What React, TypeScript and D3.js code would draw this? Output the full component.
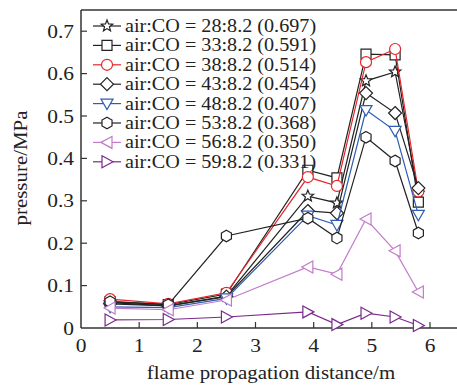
import React from "react";
import * as d3 from "d3";

const distances = [0.5, 1.5, 2.5, 3.9, 4.4, 4.9, 5.4, 5.8];
const s28 = [0.060, 0.052, 0.075, 0.311, 0.295, 0.583, 0.604, 0.318];
const s33 = [0.062, 0.055, 0.080, 0.372, 0.354, 0.646, 0.644, 0.297];
const s38 = [0.068, 0.057, 0.083, 0.356, 0.335, 0.627, 0.658, 0.322];
const s43 = [0.057, 0.052, 0.074, 0.276, 0.271, 0.554, 0.507, 0.330];
const s48 = [0.050, 0.048, 0.070, 0.265, 0.243, 0.514, 0.465, 0.267];
const s53 = [0.062, 0.055, 0.217, 0.259, 0.212, 0.450, 0.394, 0.224];
const s56 = [0.047, 0.043, 0.066, 0.144, 0.127, 0.257, 0.182, 0.085];
const s59 = [0.019, 0.020, 0.026, 0.038, 0.008, 0.035, 0.026, 0.006];

const seriesLabels = [
  "air:CO = 28:8.2 (0.697)",
  "air:CO = 33:8.2 (0.591)",
  "air:CO = 38:8.2 (0.514)",
  "air:CO = 43:8.2 (0.454)",
  "air:CO = 48:8.2 (0.407)",
  "air:CO = 53:8.2 (0.368)",
  "air:CO = 56:8.2 (0.350)",
  "air:CO = 59:8.2 (0.331)",
];
const seriesValues = [s28, s33, s38, s43, s48, s53, s56, s59];
const seriesColors = ["#222", "#222", "#e8262a", "#222", "#2f5db3", "#222", "#c27bc9", "#7a2a8c"];
const seriesMarkers = ["star", "square", "circle", "diamond", "triDown", "hexagon", "triLeft", "triRight"];

const xTicks = [0, 1, 2, 3, 4, 5, 6];
const yTicks = [0, 0.1, 0.2, 0.3, 0.4, 0.5, 0.6, 0.7];

function poly(pts: [number, number][]) {
  return "M" + pts.map((p) => p[0].toFixed(2) + "," + p[1].toFixed(2)).join("L") + "Z";
}

function markerPath(kind: string): string {
  switch (kind) {
    case "star": {
      const pts: [number, number][] = [];
      for (let i = 0; i < 10; i++) {
        const r = i % 2 === 0 ? 6 : 2.6;
        const a = -Math.PI / 2 + (i * Math.PI) / 5;
        pts.push([r * Math.cos(a), r * Math.sin(a)]);
      }
      return poly(pts);
    }
    case "square":
      return poly([[-5, -5], [5, -5], [5, 5], [-5, 5]]);
    case "circle":
      return "M5.5,0A5.5,5.5 0 1,1 -5.5,0A5.5,5.5 0 1,1 5.5,0Z";
    case "diamond":
      return poly([[0, -6.5], [6.5, 0], [0, 6.5], [-6.5, 0]]);
    case "triDown":
      return poly([[-6, -4.5], [6, -4.5], [0, 6]]);
    case "hexagon": {
      const pts: [number, number][] = [];
      for (let i = 0; i < 6; i++) {
        const a = -Math.PI / 2 + (i * Math.PI) / 3;
        pts.push([5.8 * Math.cos(a), 5.8 * Math.sin(a)]);
      }
      return poly(pts);
    }
    case "triLeft":
      return poly([[-6, 0], [5, -6], [5, 6]]);
    case "triRight":
      return poly([[6, 0], [-5, -6], [-5, 6]]);
  }
  return "";
}

function SText(props: { x: number; y: number; size: number; sx: number; anchor?: string; rotate?: number; children: React.ReactNode }) {
  const { x, y, size, sx, anchor, rotate, children } = props;
  return (
    <text
      transform={`translate(${x},${y})${rotate ? ` rotate(${rotate})` : ""} scale(${sx},1)`}
      fontSize={size}
      textAnchor={anchor || "start"}
      fill="#222"
    >
      {children}
    </text>
  );
}

export default function App() {
  const W = 457, H = 385;
  const left = 81, top = 10, bottom = 328;
  const x = d3.scaleLinear().domain([0, 6]).range([left, 430]);
  const y = d3.scaleLinear().domain([0, 0.75]).range([bottom, top]);
  const line = d3.line<[number, number]>().x((d) => x(d[0])).y((d) => y(d[1]));
  const axisColor = "#333";
  const font = "'Liberation Serif', 'Times New Roman', serif";

  return (
    <svg width={W} height={H} style={{ position: "absolute", left: 0, top: 0, background: "#fff" }} fontFamily={font}>
      <rect width={W} height={H} fill="#fff" />
      <line x1={left} x2={W} y1={top} y2={top} stroke={axisColor} strokeWidth={1.5} />
      <line x1={left} x2={W} y1={bottom} y2={bottom} stroke={axisColor} strokeWidth={1.5} />
      <line x1={left} x2={left} y1={top} y2={bottom} stroke={axisColor} strokeWidth={1.5} />
      {xTicks.map((t) => (
        <g key={"xt" + t}>
          {t > 0 && <line x1={x(t)} x2={x(t)} y1={bottom} y2={bottom - 6} stroke={axisColor} strokeWidth={1.2} />}
          <SText x={x(t)} y={352} size={19} sx={1.13} anchor="middle">{t}</SText>
        </g>
      ))}
      {yTicks.map((t) => (
        <g key={"yt" + t}>
          {t > 0 && <line x1={left} x2={left + 6} y1={y(t)} y2={y(t)} stroke={axisColor} strokeWidth={1.2} />}
          <SText x={74} y={y(t) + 6.5} size={19} sx={1.13} anchor="end">{t === 0 ? "0" : t.toFixed(1)}</SText>
        </g>
      ))}
      <SText x={271} y={379} size={19} sx={1.1} anchor="middle">flame propagation distance/m</SText>
      <SText x={27} y={168} size={19} sx={1.1} anchor="middle" rotate={-90}>pressure/MPa</SText>

      {seriesValues.map((vals, si) => {
        const pts: [number, number][] = distances.map((d, i) => [d, vals[i]]);
        const col = seriesColors[si];
        return (
          <g key={"s" + si}>
            <path d={line(pts) || ""} fill="none" stroke={col} strokeWidth={1.2} />
            {pts.map((p, i) => (
              <path key={i} d={markerPath(seriesMarkers[si])} transform={`translate(${x(p[0])},${y(p[1])})`} fill="#fff" stroke={col} strokeWidth={1.2} />
            ))}
          </g>
        );
      })}

      {seriesLabels.map((lab, i) => {
        const cy = 26 + i * 19.4;
        const col = seriesColors[i];
        return (
          <g key={"lg" + i}>
            <line x1={93} x2={121} y1={cy} y2={cy} stroke={col} strokeWidth={1.2} />
            <path d={markerPath(seriesMarkers[i])} transform={`translate(107,${cy})`} fill="#fff" stroke={col} strokeWidth={1.2} />
            <SText x={125} y={cy + 6} size={18} sx={1.12}>{lab}</SText>
          </g>
        );
      })}
    </svg>
  );
}
